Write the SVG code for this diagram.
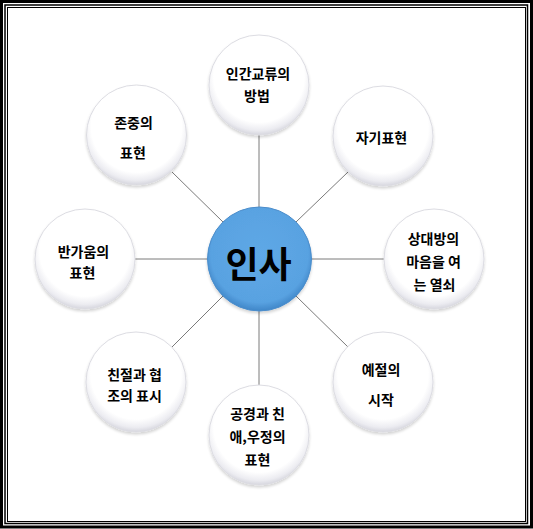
<svg xmlns="http://www.w3.org/2000/svg" width="533" height="529" viewBox="0 0 533 529">
<style>
.frame{fill:none;stroke:#000}
.bub{fill:url(#bubG);stroke:#dcdce2;stroke-width:1}
.lbl{font-family:"Noto Sans CJK KR","Noto Sans",sans-serif;font-weight:bold;font-size:14px;fill:#000;text-anchor:middle}
.conn line{stroke:#7a7a7a;stroke-width:1}
</style>
<defs>
<radialGradient id="bubG" cx="50%" cy="42%" r="58%">
<stop offset="0" stop-color="#ffffff"/>
<stop offset="0.78" stop-color="#ffffff"/>
<stop offset="0.92" stop-color="#ececf1"/>
<stop offset="1" stop-color="#d6d6de"/>
</radialGradient>
<radialGradient id="hubG" cx="50%" cy="45%" r="55%">
<stop offset="0" stop-color="#5ea8e6"/>
<stop offset="0.85" stop-color="#59a2e1"/>
<stop offset="1" stop-color="#3f86c8"/>
</radialGradient>
<filter id="sh" x="-20%" y="-20%" width="140%" height="140%">
<feGaussianBlur in="SourceAlpha" stdDeviation="1.5"/>
<feOffset dy="1.5" result="b"/>
<feComponentTransfer><feFuncA type="linear" slope="0.18"/></feComponentTransfer>
<feMerge><feMergeNode/><feMergeNode in="SourceGraphic"/></feMerge>
</filter>
</defs>
<rect width="533" height="529" fill="#fff"/>
<rect class="frame" x="1.5" y="1.5" width="530" height="525.5" stroke-width="3"/>
<rect class="frame" x="5" y="5" width="522.5" height="518.5" stroke-width="1.5"/>
<rect class="frame" x="7.5" y="7.5" width="518" height="514" stroke-width="1"/>
<g class="conn" id="connectors">
<line x1="259" y1="135" x2="259" y2="207"/>
<line x1="348" y1="172" x2="296" y2="222"/>
<line x1="384" y1="259" x2="311" y2="259"/>
<line x1="348" y1="347" x2="296" y2="296"/>
<line x1="259" y1="385" x2="259" y2="311"/>
<line x1="172" y1="347" x2="223" y2="296"/>
<line x1="135" y1="259" x2="208" y2="259"/>
<line x1="172" y1="172" x2="223" y2="222"/>
</g>
<g id="hub">
<circle cx="259.5" cy="259" r="52" fill="url(#hubG)" stroke="#4b8dcb" stroke-width="1" filter="url(#sh)"/>
<text x="258.5" y="278" font-family="'Noto Sans CJK KR',sans-serif" font-weight="bold" font-size="36" text-anchor="middle" fill="#000">인사</text>
</g>
<g id="n-top">
<circle class="bub" cx="259" cy="85" r="50" filter="url(#sh)"/>
<text class="lbl" x="258" y="79">인간교류의</text>
<text class="lbl" x="257" y="101">방법</text>
</g>
<g id="n-topright">
<circle class="bub" cx="383" cy="136" r="50" filter="url(#sh)"/>
<text class="lbl" x="381.5" y="143">자기표현</text>
</g>
<g id="n-right">
<circle class="bub" cx="434" cy="259" r="50" filter="url(#sh)"/>
<text class="lbl" x="433.5" y="244">상대방의</text>
<text class="lbl" x="433.5" y="267">마음을 여</text>
<text class="lbl" x="434.5" y="290">는 열쇠</text>
</g>
<g id="n-bottomright">
<circle class="bub" cx="383" cy="382" r="50" filter="url(#sh)"/>
<text class="lbl" x="381" y="375">예절의</text>
<text class="lbl" x="381" y="405">시작</text>
</g>
<g id="n-bottom">
<circle class="bub" cx="259" cy="435" r="50" filter="url(#sh)"/>
<text class="lbl" x="257.5" y="419">공경과 친</text>
<text class="lbl" x="257.5" y="442">애,우정의</text>
<text class="lbl" x="257.5" y="465">표현</text>
</g>
<g id="n-bottomleft">
<circle class="bub" cx="136" cy="382" r="50" filter="url(#sh)"/>
<text class="lbl" x="134.5" y="380">친절과 협</text>
<text class="lbl" x="134.5" y="401">조의 표시</text>
</g>
<g id="n-left">
<circle class="bub" cx="85" cy="259" r="50" filter="url(#sh)"/>
<text class="lbl" x="83.5" y="257">반가움의</text>
<text class="lbl" x="82.5" y="278">표현</text>
</g>
<g id="n-topleft">
<circle class="bub" cx="136.5" cy="135" r="50" filter="url(#sh)"/>
<text class="lbl" x="133.5" y="128">존중의</text>
<text class="lbl" x="133" y="158">표현</text>
</g>
</svg>
